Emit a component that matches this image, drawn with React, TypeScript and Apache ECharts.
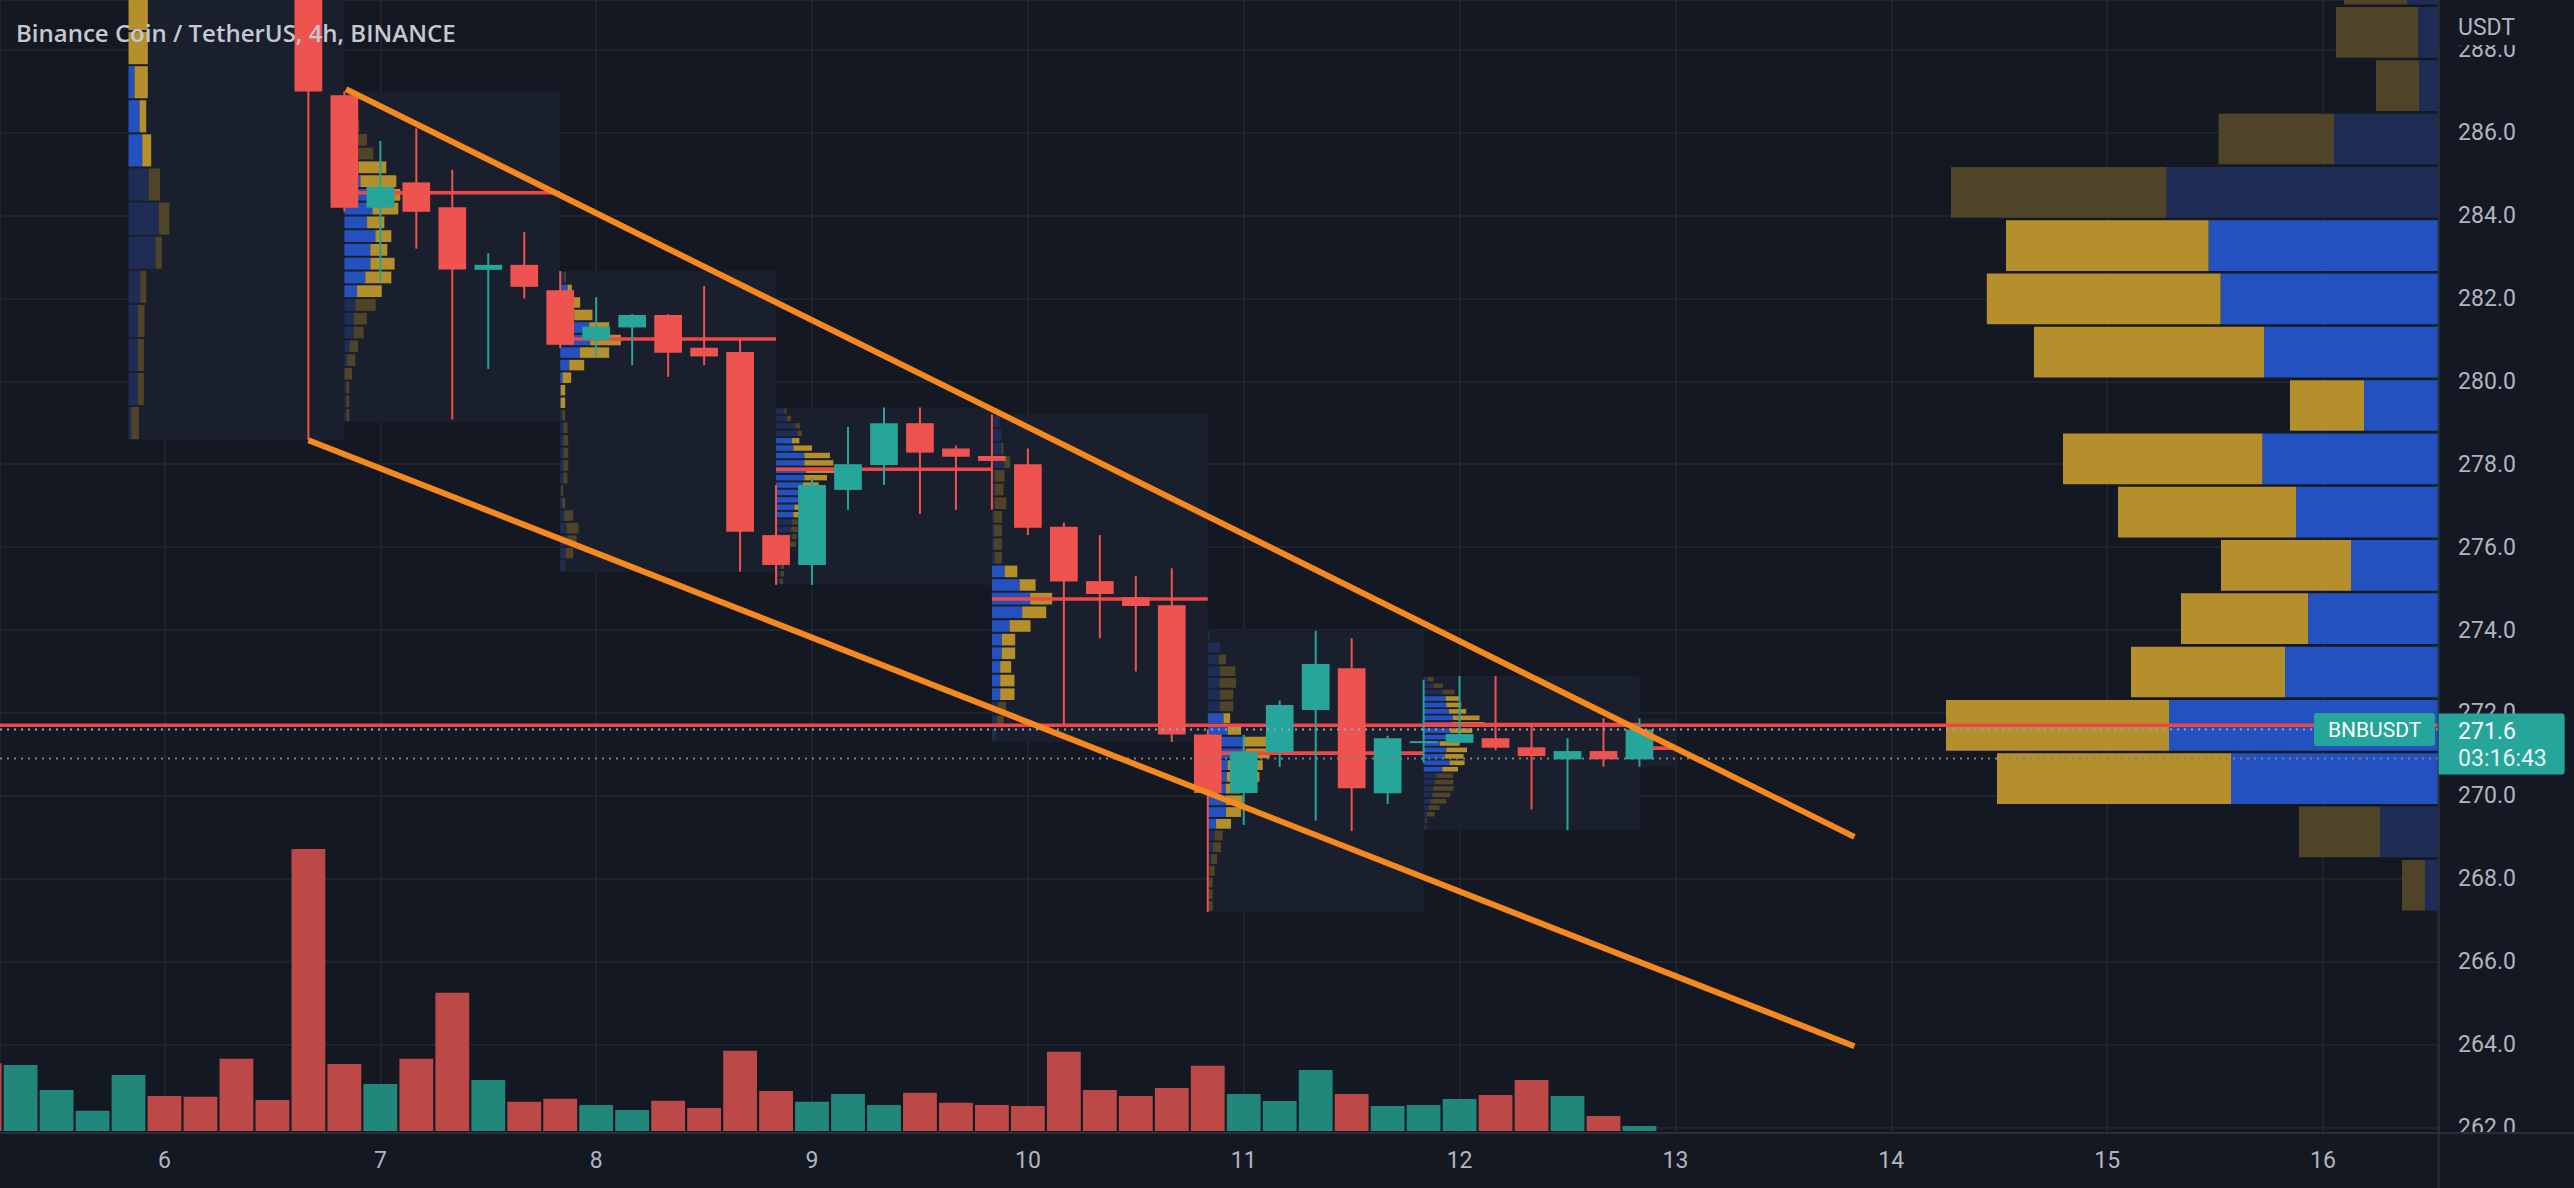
import React, { useEffect, useRef } from 'react';
import * as echarts from 'echarts';

// ---------- layout / style constants ----------
const W = 2574;
const H = 1188;
const BG = '#141823';
const GRID_COLOR = '#232733';
const BORDER = '#2a2e39';
const TEXT = '#b2b5be';
const UP = '#26a69a';
const DOWN = '#ef5350';
const VOL_UP = '#22877b';
const VOL_DOWN = '#bd4848';
const POC_RED = '#f04646';
const TREND = '#f5891f';
const VA_UP = '#2451c0';
const VA_DOWN = '#b58f2c';
const OUT_UP = '#1f2c55';
const OUT_DOWN = '#4f4428';
const BOX = '#1a1f2d';
const FONT = 'Roboto, "Noto Sans", sans-serif';
const TITLE_FONT = '"Open Sans", Roboto, sans-serif';

// ---------- axes ----------
const X_MIN = 5.2379; // day value at the left edge of the pane
const X_MAX = 16.5357; // day value at the right edge of the pane
const Y_MIN = 261.875;
const Y_MAX = 289.2;
const BARS_PER_DAY = 6; // 4h bars
const FIRST_TICK_DAY = 6;
const dayTickLabels = ['6', '7', '8', '9', '10', '11', '12', '13', '14', '15', '16'];
const dayOf = (bar: number) => FIRST_TICK_DAY + bar / BARS_PER_DAY; // bar 0 = day 6 00:00

// ---------- candles (bar index, OHLC) ----------
const candleBar = [4, 5, 6, 7, 8, 9, 10, 11, 12, 13, 14, 15, 16, 17, 18, 19, 20, 21, 22, 23, 24, 25, 26, 27, 28, 29, 30, 31, 32, 33, 34, 35, 36, 37, 38, 39, 40, 41];
const candleOpen = [292.4, 286.9, 284.19, 284.8, 284.2, 282.69, 282.81, 282.2, 281.0, 281.3, 281.6, 280.81, 280.71, 276.29, 275.57, 277.38, 277.98, 278.99, 278.38, 278.2, 278.0, 276.49, 275.18, 274.79, 274.6, 271.48, 270.07, 271.06, 272.07, 273.08, 270.06, 271.28, 271.28, 271.39, 271.17, 270.88, 271.08, 270.88];
const candleHigh = [293.0, 287.0, 285.8, 286.1, 285.1, 283.09, 283.6, 282.66, 282.03, 281.62, 281.62, 282.3, 281.0, 277.5, 277.67, 278.9, 279.37, 279.37, 278.45, 279.2, 278.38, 276.59, 276.29, 275.3, 275.49, 271.6, 271.47, 272.3, 273.98, 273.8, 271.45, 272.8, 272.89, 272.89, 271.76, 271.39, 271.87, 271.87];
const candleLow = [278.58, 284.1, 282.4, 283.2, 279.08, 280.3, 282.0, 280.8, 280.6, 280.39, 280.11, 280.39, 275.41, 275.09, 275.09, 276.9, 277.5, 276.8, 276.9, 276.9, 276.29, 271.71, 273.8, 273.0, 271.3, 267.2, 269.3, 270.7, 269.4, 269.15, 269.8, 270.8, 271.27, 271.1, 269.67, 269.17, 270.7, 270.7];
const candleClose = [286.99, 284.19, 284.69, 284.09, 282.7, 282.81, 282.28, 280.88, 281.32, 281.6, 280.69, 280.6, 276.37, 275.57, 277.5, 278.0, 278.99, 278.28, 278.18, 278.08, 276.47, 275.17, 274.87, 274.58, 271.48, 270.07, 271.06, 272.19, 273.18, 270.18, 271.39, 271.32, 271.49, 271.16, 270.96, 271.08, 270.88, 271.6];

// ---------- volume (K) ----------
const volumeBar = [-5, -4, -3, -2, -1, 0, 1, 2, 3, 4, 5, 6, 7, 8, 9, 10, 11, 12, 13, 14, 15, 16, 17, 18, 19, 20, 21, 22, 23, 24, 25, 26, 27, 28, 29, 30, 31, 32, 33, 34, 35, 36, 37, 38, 39, 40, 41];
const volumeK = [67.7, 66, 41, 20.3, 56, 35, 34.3, 72.3, 31, 282, 67, 47, 72.3, 138.3, 51, 29.3, 32.3, 26, 21, 30.3, 23, 80.3, 40, 29.3, 37, 26, 38.3, 28.3, 26, 25, 79.3, 41, 35, 43, 65.3, 37, 30, 61, 37, 25, 26, 32, 36, 51, 35, 15, 5];
const volumeRising = [0, 1, 1, 1, 1, 0, 0, 0, 0, 0, 0, 1, 0, 0, 1, 0, 0, 1, 1, 0, 0, 0, 0, 1, 1, 1, 0, 0, 0, 0, 0, 0, 0, 0, 0, 1, 1, 1, 0, 1, 1, 1, 0, 0, 1, 0, 1];
const VOLUME_AXIS_MAX = 400;

// ---------- session volume profiles ----------
const PROFILE_ROWS = 24;
const PROFILE_UNIT_DAYS = 1 / 216;
const sessionStartBar = [-1, 5, 11, 17, 23, 29, 35, 41];
const sessionBarCount = [6, 6, 6, 6, 6, 6, 6, 1];
const sessionLow = [278.58, 279.02, 275.4, 275.09, 271.3, 267.2, 269.17, 270.7];
const sessionHigh = [298.32, 286.99, 282.66, 279.37, 279.2, 274.0, 272.89, 271.87];
const sessionPoc = [null, 284.55, 281.02, 277.88, 274.75, 271.03, 271.72, 271.15];
const sessionVaLow = [8, 9, 13, 9, 3, 7, 9, 0];
const sessionVaHigh = [23, 18, 22, 19, 12, 16, 20, 23];
const sessionUpVol: number[][] = [
  [2.7, 9.3, 9.3, 9.3, 11.7, 27, 30.3, 20.3, 13.7, 11, 6, 0, 0],
  [2, 2, 2, 0, 2.7, 5, 9.3, 9.3, 11, 12.7, 21, 26, 26, 31, 22.7, 28, 30, 16, 14, 14, 12, 10, 6, 4],
  [4, 5.7, 7.3, 6.3, 4, 2, 1, 3, 3, 3, 3, 3, 2, 0.5, 0.5, 2.3, 9, 19.7, 30, 29, 14, 8, 7.3, 4],
  [4, 5, 5, 6, 10, 14, 16, 15, 16, 17.3, 18.3, 22.3, 22.3, 26.7, 28.3, 30, 28.3, 28.3, 17.3, 16, 21.7, 19.3, 10.7, 8.3],
  [4, 5, 6, 8.3, 8.3, 8.3, 10, 10, 17.7, 30.3, 38.3, 27.7, 12.7, 2.7, 2, 2, 1.7, 2.7, 2.7, 2.7, 12.7, 9.3, 9.3, 7.7],
  [1, 1, 1, 1.7, 3.3, 5, 6.7, 8.3, 18.3, 18.3, 18, 19, 20, 38, 35, 20, 15.7, 12.3, 12.3, 11.7, 12.3, 11, 12.3, 2],
  [2, 2, 3.3, 5.3, 6.7, 8.7, 9.3, 11, 12.7, 18.7, 26, 21, 22.7, 16, 22, 26.7, 28, 29.3, 25.3, 22.7, 22, 19.3, 10, 4.3],
  [],
];
const sessionDownVol: number[][] = [
  [7.7, 6, 6, 6.7, 6, 6.3, 10.7, 11.3, 9, 6.7, 13.3, 19.3, 19.3],
  [3, 3, 3, 7.7, 8.3, 8.7, 10, 13.3, 20.3, 24.7, 26, 24.3, 17, 16, 17.3, 26, 26, 36, 28, 15, 10.7, 5, 4, 3],
  [0.5, 7.3, 9, 12, 9, 3, 2, 4.3, 5, 5, 5, 4.3, 3, 4.5, 4.5, 8.7, 15, 29.3, 30.7, 20, 18.3, 12, 4.3, 1.7],
  [3, 3, 3, 3, 4, 6, 4.7, 6.7, 5.7, 5.3, 5, 12, 15, 16, 22.7, 29, 29, 25.7, 18.7, 7.3, 4.3, 4.7, 4.3, 2.3],
  [0.3, 6.7, 8.3, 14.3, 14.3, 11, 13.3, 13.3, 21, 24, 22, 16, 12.7, 7.3, 8, 8, 8.3, 11.7, 9, 10, 5.7, 2.3, 0, 0],
  [4, 4, 4, 5.3, 6, 8.3, 8.3, 15, 15, 16.7, 14, 32.7, 35, 24, 23.3, 13.3, 6.7, 13.3, 13.3, 16.7, 15.3, 7.3, 0, 0],
  [0.7, 1.3, 7.7, 10.7, 16, 18, 20.7, 19, 16.7, 15.7, 15, 19, 20.7, 20, 20, 22, 33, 26.7, 17.3, 15, 13.3, 11.7, 9.3, 5.7],
  [],
];

// ---------- visible range volume profile (right side) ----------
const vrvpLow = 267.2;
const vrvpRowSize = 1.286;
const vrvpVaLow = 2;
const vrvpVaHigh = 12;
const VRVP_WIDTH_FRACTION = 0.202;
const vrvpUpVol = [13.6, 58.6, 207.6, 269.6, 153.6, 130.6, 87.6, 142.6, 176.2, 74.6, 174.6, 218.0, 230.0, 272.0, 104.6, 19.6, 20.6, 31.6];
const vrvpDownVol = [23.0, 81.0, 234.0, 223.0, 154.0, 127.0, 130.0, 178.0, 199.4, 74.0, 230.0, 233.8, 202.6, 215.6, 115.4, 43.0, 82.0, 63.0];

// ---------- drawings ----------
const upperTrend = [[6.841, 287.05], [13.829, 269.01]];
const lowerTrend = [[6.667, 278.58], [13.829, 263.96]];
const referenceLevel = 270.9;
const symbolName = 'BNBUSDT';
const countdown = '03:16:43';
const titleText = 'Binance Coin / TetherUS, 4h, BINANCE';
const currencyLabel = 'USDT';

const vrvpTotals = vrvpUpVol.map((u, i) => u + vrvpDownVol[i]);
const vrvpMax = Math.max(...vrvpTotals);
const vrvpPocRow = vrvpTotals.indexOf(vrvpMax);
const vrvpPoc = vrvpLow + (vrvpPocRow + 0.5) * vrvpRowSize;
const lastPrice = candleClose[candleClose.length - 1];
const lastBar = candleBar[candleBar.length - 1];

function renderCandle(params: any, api: any) {
  const x = api.value(0);
  const o = api.value(1);
  const h = api.value(2);
  const l = api.value(3);
  const c = api.value(4);
  const pO = api.coord([x, o]);
  const pC = api.coord([x, c]);
  const pH = api.coord([x, h]);
  const pL = api.coord([x, l]);
  const barPx = api.size([1 / BARS_PER_DAY, 0])[0];
  const bodyW = barPx * 0.77;
  const color = c >= o ? UP : DOWN;
  const top = Math.min(pO[1], pC[1]);
  const bh = Math.max(Math.abs(pO[1] - pC[1]), 2);
  return {
    type: 'group',
    children: [
      { type: 'rect', shape: { x: pH[0] - 1, y: pH[1], width: 2, height: pL[1] - pH[1] }, style: { fill: color } },
      { type: 'rect', shape: { x: pO[0] - bodyW / 2, y: top, width: bodyW, height: bh }, style: { fill: color } },
    ],
  };
}

function renderVolume(params: any, api: any) {
  const x = api.value(0);
  const v = api.value(1);
  const rising = api.value(2);
  const pTop = api.coord([x, v]);
  const pBase = api.coord([x, 0]);
  const w = api.size([1 / BARS_PER_DAY, 0])[0] * 0.94;
  return {
    type: 'rect',
    shape: { x: pTop[0] - w / 2, y: pTop[1], width: w, height: pBase[1] - pTop[1] },
    style: { fill: rising ? VOL_UP : VOL_DOWN },
  };
}

function renderSession(params: any, api: any) {
  const k = api.value(2);
  const x0 = dayOf(sessionStartBar[k]);
  const x1 = dayOf(sessionStartBar[k] + sessionBarCount[k]);
  const tl = api.coord([x0, sessionHigh[k]]);
  const br = api.coord([x1, sessionLow[k]]);
  const children: any[] = [
    { type: 'rect', shape: { x: tl[0], y: tl[1], width: br[0] - tl[0], height: br[1] - tl[1] }, style: { fill: BOX } },
  ];
  const rs = (sessionHigh[k] - sessionLow[k]) / PROFILE_ROWS;
  const unitPx = api.size([PROFILE_UNIT_DAYS, 0])[0];
  const ups = sessionUpVol[k];
  const downs = sessionDownVol[k];
  for (let i = 0; i < ups.length; i++) {
    const yTop = api.coord([x0, sessionLow[k] + (i + 1) * rs])[1];
    const yBot = api.coord([x0, sessionLow[k] + i * rs])[1];
    const pitch = yBot - yTop;
    const gap = Math.min(2, pitch * 0.28);
    const inVa = i >= sessionVaLow[k] && i <= sessionVaHigh[k];
    const uw = ups[i] * unitPx;
    const dw = downs[i] * unitPx;
    if (uw > 0) {
      children.push({ type: 'rect', shape: { x: tl[0], y: yTop + gap / 2, width: uw, height: pitch - gap }, style: { fill: inVa ? VA_UP : OUT_UP } });
    }
    if (dw > 0) {
      children.push({ type: 'rect', shape: { x: tl[0] + uw, y: yTop + gap / 2, width: dw, height: pitch - gap }, style: { fill: inVa ? VA_DOWN : OUT_DOWN } });
    }
  }
  const poc = sessionPoc[k];
  if (poc != null) {
    const py = api.coord([x0, poc])[1];
    children.push({ type: 'rect', shape: { x: tl[0], y: py - 1.8, width: br[0] - tl[0], height: 3.6 }, style: { fill: POC_RED } });
  }
  return { type: 'group', children };
}

function renderVrvp(params: any, api: any) {
  const i = api.value(2);
  const cs = params.coordSys;
  const right = cs.x + cs.width;
  const yTop = api.coord([X_MAX, vrvpLow + (i + 1) * vrvpRowSize])[1];
  const yBot = api.coord([X_MAX, vrvpLow + i * vrvpRowSize])[1];
  const gap = 2.6;
  const scale = (cs.width * VRVP_WIDTH_FRACTION) / vrvpMax;
  const uw = vrvpUpVol[i] * scale;
  const dw = vrvpDownVol[i] * scale;
  const inVa = i >= vrvpVaLow && i <= vrvpVaHigh;
  return {
    type: 'group',
    children: [
      { type: 'rect', shape: { x: right - uw, y: yTop + gap / 2, width: uw, height: yBot - yTop - gap }, style: { fill: inVa ? VA_UP : OUT_UP } },
      { type: 'rect', shape: { x: right - uw - dw, y: yTop + gap / 2, width: dw, height: yBot - yTop - gap }, style: { fill: inVa ? VA_DOWN : OUT_DOWN } },
    ],
  };
}

function renderLastPrice(params: any, api: any) {
  const cs = params.coordSys;
  const right = cs.x + cs.width;
  const y = api.coord([api.value(0), api.value(1)])[1];
  return {
    type: 'group',
    children: [
      { type: 'rect', shape: { x: right - 124.6, y: y - 16.5, width: 121, height: 33, r: 3 }, style: { fill: UP } },
      {
        type: 'text', x: right - 64, y: y + 0.5,
        style: { text: symbolName, fill: '#ffffff', fontSize: 21, fontFamily: FONT, align: 'center', verticalAlign: 'middle' },
      },
      { type: 'rect', shape: { x: right, y: y - 16, width: 126, height: 61, r: [0, 3, 3, 0] }, style: { fill: UP } },
      {
        type: 'text', x: right + 19.5, y: y + 1.5,
        style: { text: api.value(1).toFixed(1), fill: '#ffffff', fontSize: 23, fontFamily: FONT, align: 'left', verticalAlign: 'middle' },
      },
      {
        type: 'text', x: right + 19.5, y: y + 29,
        style: { text: countdown, fill: '#e8f5f3', fontSize: 23, fontFamily: FONT, align: 'left', verticalAlign: 'middle' },
      },
    ],
  };
}

function buildOption() {
  const candleData = candleBar.map((b, i) => [dayOf(b), candleOpen[i], candleHigh[i], candleLow[i], candleClose[i]]);
  const volumeData = volumeBar.map((b, i) => [dayOf(b), volumeK[i], volumeRising[i]]);
  const sessionData = sessionStartBar.map((b, k) => [dayOf(b), sessionLow[k], k]);
  const vrvpData = vrvpUpVol.map((u, i) => [X_MAX, vrvpLow + i * vrvpRowSize, i]);

  const xFormatter = (v: number) => {
    const r = Math.round(v);
    if (Math.abs(v - r) > 1e-6) return '';
    const lbl = dayTickLabels[r - FIRST_TICK_DAY];
    return lbl == null ? '' : lbl;
  };
  const yFormatter = (v: number) => {
    const r = Math.round(v / 2);
    return Math.abs(v / 2 - r) < 1e-6 ? v.toFixed(1) : '';
  };

  return {
    animation: false,
    backgroundColor: BG,
    grid: [
      { left: 0, right: 135.4, top: 0, bottom: 55.4, outerBoundsMode: 'none' },
      { left: 0, right: 135.4, top: 731, bottom: 57, outerBoundsMode: 'none' },
    ],
    xAxis: [
      {
        gridIndex: 0, type: 'value', position: 'top', min: X_MIN, max: X_MAX, minInterval: 1, maxInterval: 1, splitNumber: 11,
        axisLine: { show: false }, axisTick: { show: false }, axisLabel: { show: false },
        splitLine: { show: true, lineStyle: { color: GRID_COLOR, width: 1.5 } },
      },
      {
        gridIndex: 0, type: 'value', position: 'bottom', min: X_MIN, max: X_MAX, minInterval: 1, maxInterval: 1, splitNumber: 11, z: 10,
        axisLine: { show: false }, axisTick: { show: false }, splitLine: { show: false },
        axisLabel: { show: true, color: TEXT, fontSize: 23, fontFamily: FONT, margin: 16, formatter: xFormatter },
      },
      { gridIndex: 1, type: 'value', min: X_MIN, max: X_MAX, show: false },
    ],
    yAxis: [
      {
        gridIndex: 0, type: 'value', position: 'right', min: Y_MIN, max: Y_MAX, minInterval: 2, maxInterval: 2, splitNumber: 14,
        axisLine: { show: false }, axisTick: { show: false },
        axisLabel: { color: TEXT, fontSize: 23, fontFamily: FONT, margin: 19.5, formatter: yFormatter },
        splitLine: { show: true, lineStyle: { color: GRID_COLOR, width: 1.5 } },
      },
      { gridIndex: 1, type: 'value', min: 0, max: VOLUME_AXIS_MAX, show: false },
    ],
    series: [
      {
        type: 'custom', name: 'Volume', xAxisIndex: 2, yAxisIndex: 1, z: 1, clip: true, silent: true,
        dimensions: ['day', 'volume', 'rising'], encode: { x: 0, y: 1 },
        data: volumeData, renderItem: renderVolume,
      },
      {
        type: 'custom', name: 'Session profiles', xAxisIndex: 0, yAxisIndex: 0, z: 1, clip: true, silent: true,
        dimensions: ['day', 'low', 'session'], encode: { x: 0, y: 1 },
        data: sessionData, renderItem: renderSession,
      },
      {
        type: 'custom', name: 'Visible range profile', xAxisIndex: 0, yAxisIndex: 0, z: 1, clip: true, silent: true,
        dimensions: ['day', 'price', 'row'], encode: { x: 0, y: 1 },
        data: vrvpData, renderItem: renderVrvp,
      },
      {
        type: 'line', name: 'POC', xAxisIndex: 0, yAxisIndex: 0, z: 2, silent: true, symbol: 'none',
        data: [[X_MIN, vrvpPoc], [X_MAX, vrvpPoc]],
        lineStyle: { color: POC_RED, width: 3.6 },
      },
      {
        type: 'custom', name: 'BNBUSDT', xAxisIndex: 0, yAxisIndex: 0, z: 3, clip: true, silent: true,
        dimensions: ['day', 'open', 'high', 'low', 'close'], encode: { x: 0, y: [1, 2, 3, 4] },
        data: candleData, renderItem: renderCandle,
      },
      {
        type: 'line', name: 'Reference', xAxisIndex: 0, yAxisIndex: 0, z: 4, silent: true, symbol: 'none',
        data: [[X_MIN, referenceLevel], [X_MAX, referenceLevel]],
        lineStyle: { color: '#7d818c', width: 2, type: [2, 5] },
      },
      {
        type: 'line', name: 'Price line', xAxisIndex: 0, yAxisIndex: 0, z: 4, silent: true, symbol: 'none',
        data: [[X_MIN, lastPrice], [X_MAX, lastPrice]],
        lineStyle: { color: '#86a9c6', width: 2, type: [2, 5] },
      },
      {
        type: 'line', name: 'Upper trend', xAxisIndex: 0, yAxisIndex: 0, z: 5, silent: true, symbol: 'none',
        data: upperTrend, lineStyle: { color: TREND, width: 6 },
      },
      {
        type: 'line', name: 'Lower trend', xAxisIndex: 0, yAxisIndex: 0, z: 5, silent: true, symbol: 'none',
        data: lowerTrend, lineStyle: { color: TREND, width: 6 },
      },
      {
        type: 'custom', name: 'Last price', xAxisIndex: 0, yAxisIndex: 0, z: 8, clip: false, silent: true,
        dimensions: ['day', 'price'], encode: { x: 0, y: 1 },
        data: [[dayOf(lastBar), lastPrice]], renderItem: renderLastPrice,
      },
    ],
    graphic: [
      { type: 'rect', z: 6, silent: true, shape: { x: 0, y: 1133.5, width: W, height: H - 1133.5 }, style: { fill: BG } },
      { type: 'rect', z: 6, silent: true, shape: { x: 2439.5, y: 0, width: W - 2439.5, height: 45 }, style: { fill: BG } },
      {
        type: 'text', z: 7, silent: true, x: 2458, y: 27,
        style: { text: currencyLabel, fill: TEXT, fontSize: 23, fontFamily: FONT, align: 'left', verticalAlign: 'middle' },
      },
      { type: 'line', z: 7, silent: true, shape: { x1: 2438.6, y1: 0, x2: 2438.6, y2: H }, style: { stroke: BORDER, lineWidth: 2 } },
      { type: 'line', z: 7, silent: true, shape: { x1: 0, y1: 1133, x2: W, y2: 1133 }, style: { stroke: BORDER, lineWidth: 2 } },
      {
        type: 'text', z: 7, silent: true, x: 16, y: 32,
        style: { text: titleText, fill: '#c5c8d0', fontSize: 24, fontWeight: 600, fontFamily: TITLE_FONT, align: 'left', verticalAlign: 'middle' },
      },
    ],
  };
}

export default function App() {
  const ref = useRef<HTMLDivElement | null>(null);
  useEffect(() => {
    if (!ref.current) return;
    const chart = echarts.init(ref.current, null, { renderer: 'svg' });
    chart.setOption(buildOption() as any);
    return () => {
      chart.dispose();
    };
  }, []);
  return (
    <div
      ref={ref}
      style={{ position: 'fixed', left: 0, top: 0, width: W, height: H, background: BG }}
    />
  );
}
